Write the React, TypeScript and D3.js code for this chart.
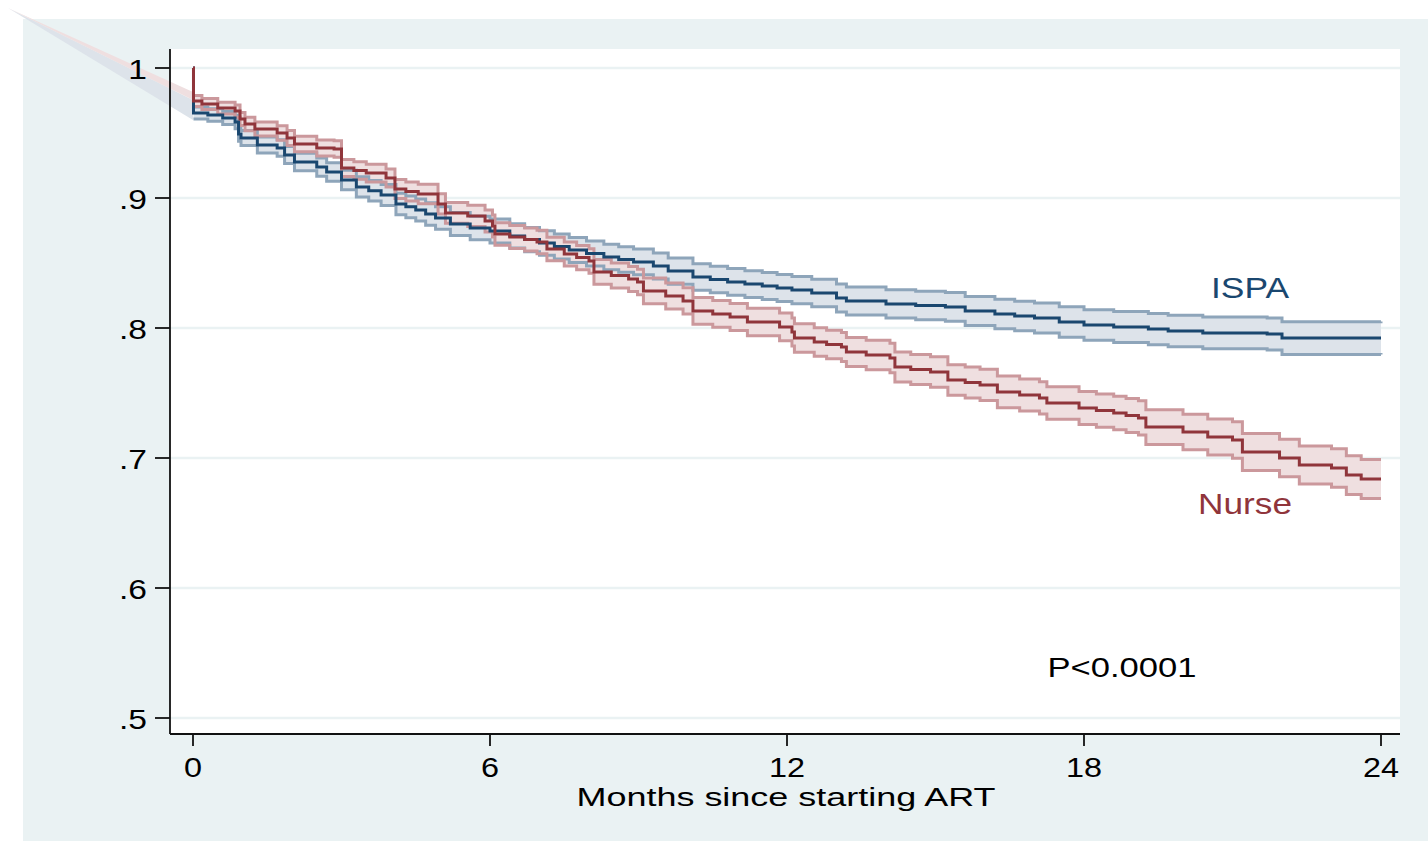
import React from 'react';
import * as d3 from 'd3';

// Kaplan-Meier estimates (months, survival, CI half-width)
const ispaTime = [0, 0.01, 0.3, 0.6, 0.85, 0.92, 0.97, 1.3, 1.7, 1.85, 2.05, 2.5, 2.7, 3.0, 3.3, 3.55, 3.8, 4.1, 4.3, 4.5, 4.7, 4.9, 5.2, 5.6, 6.0, 6.4, 6.7, 7.0, 7.3, 7.6, 7.95, 8.3, 8.6, 8.9, 9.3, 9.6, 10.1, 10.45, 10.8, 11.15, 11.5, 11.8, 12.1, 12.5, 13.0, 13.2, 14.0, 14.6, 15.2, 15.6, 16.2, 16.6, 17.0, 17.5, 18.0, 18.6, 19.3, 19.7, 20.4, 21.7, 22.0, 24.0];
const ispaSurv = [1, 0.9654, 0.9638, 0.9615, 0.9585, 0.9492, 0.9462, 0.9408, 0.9385, 0.9331, 0.9277, 0.9238, 0.92, 0.9138, 0.9085, 0.9055, 0.9023, 0.8954, 0.8932, 0.8908, 0.8877, 0.8846, 0.88, 0.8769, 0.8746, 0.8708, 0.868, 0.8654, 0.8627, 0.86, 0.8573, 0.8546, 0.8527, 0.8508, 0.8477, 0.8438, 0.8392, 0.8373, 0.8354, 0.8338, 0.8323, 0.8308, 0.8292, 0.8269, 0.8231, 0.8208, 0.8185, 0.8173, 0.8162, 0.8131, 0.8108, 0.8092, 0.8077, 0.8046, 0.8023, 0.8008, 0.7992, 0.7977, 0.7962, 0.7954, 0.7923, 0.7923];
const ispaHalf = [0, 0.0046, 0.0048, 0.005, 0.0052, 0.0056, 0.0058, 0.0061, 0.0063, 0.0066, 0.0068, 0.007, 0.0072, 0.0075, 0.0078, 0.0079, 0.008, 0.0083, 0.0084, 0.0085, 0.0086, 0.0087, 0.0089, 0.009, 0.0092, 0.0093, 0.0094, 0.0095, 0.0096, 0.0097, 0.0097, 0.0098, 0.0098, 0.0099, 0.01, 0.0101, 0.0102, 0.0102, 0.0103, 0.0103, 0.0104, 0.0104, 0.0105, 0.0106, 0.0107, 0.0108, 0.0109, 0.011, 0.0111, 0.0112, 0.0113, 0.0114, 0.0115, 0.0117, 0.0118, 0.0119, 0.012, 0.0121, 0.0122, 0.0123, 0.0126, 0.0127];

const nurseTime = [0, 0.01, 0.18, 0.5, 0.85, 0.95, 1.05, 1.25, 1.7, 1.9, 2.05, 2.5, 2.85, 3.0, 3.25, 3.5, 3.9, 4.08, 4.3, 4.55, 4.95, 5.1, 5.55, 5.9, 6.05, 6.1, 6.4, 6.7, 6.95, 7.15, 7.5, 7.75, 8.0, 8.1, 8.45, 8.8, 8.98, 9.1, 9.55, 9.9, 10.1, 10.5, 10.85, 11.2, 11.85, 12.1, 12.15, 12.55, 12.8, 13.1, 13.2, 13.6, 14.08, 14.18, 14.5, 14.9, 15.25, 15.6, 15.9, 16.25, 16.7, 17.1, 17.25, 17.9, 18.25, 18.6, 18.85, 19.1, 19.25, 20.0, 20.5, 21.0, 21.2, 21.95, 22.35, 23.0, 23.3, 23.6, 24.0];
const nurseSurv = [1, 0.9746, 0.9723, 0.9692, 0.9669, 0.9608, 0.9569, 0.9531, 0.95, 0.9462, 0.9415, 0.9385, 0.9377, 0.9231, 0.9212, 0.9192, 0.9154, 0.9069, 0.905, 0.9031, 0.8954, 0.8885, 0.8862, 0.8823, 0.8785, 0.8723, 0.87, 0.8681, 0.8662, 0.8608, 0.8569, 0.8542, 0.8515, 0.8431, 0.8404, 0.8377, 0.8354, 0.8285, 0.8246, 0.8208, 0.8131, 0.8108, 0.8085, 0.8046, 0.8008, 0.7969, 0.7923, 0.7892, 0.7873, 0.7854, 0.7815, 0.7792, 0.7769, 0.77, 0.7681, 0.7662, 0.76, 0.7581, 0.7562, 0.7508, 0.7485, 0.7462, 0.7423, 0.7385, 0.7365, 0.7346, 0.7327, 0.7308, 0.7238, 0.72, 0.7162, 0.7138, 0.7046, 0.7, 0.6946, 0.6923, 0.6869, 0.6838, 0.6838];
const nurseHalf = [0, 0.0042, 0.0043, 0.0045, 0.0047, 0.005, 0.0052, 0.0054, 0.0056, 0.0058, 0.006, 0.0062, 0.0063, 0.0066, 0.0067, 0.0068, 0.007, 0.0073, 0.0074, 0.0075, 0.0078, 0.008, 0.0082, 0.0084, 0.0085, 0.0087, 0.0088, 0.0089, 0.009, 0.0091, 0.0092, 0.0093, 0.0094, 0.0095, 0.0096, 0.0097, 0.0098, 0.0099, 0.01, 0.0101, 0.0103, 0.0103, 0.0104, 0.0105, 0.0107, 0.0108, 0.0109, 0.011, 0.011, 0.0111, 0.0112, 0.0113, 0.0114, 0.0115, 0.0116, 0.0117, 0.0118, 0.0119, 0.012, 0.0122, 0.0123, 0.0124, 0.0125, 0.0127, 0.0128, 0.0129, 0.013, 0.0132, 0.0134, 0.0136, 0.0138, 0.014, 0.0142, 0.0144, 0.0146, 0.0148, 0.0149, 0.015, 0.015];

const xTicks = [0, 6, 12, 18, 24];
const yTicks = [0.5, 0.6, 0.7, 0.8, 0.9, 1];
const yTickLabels = ['.5', '.6', '.7', '.8', '.9', '1'];

// stray CI wedge at the top-left corner (survival bounds at month 0)
const nurseWedge = [0.9815, 0.9754];
const ispaWedge = [0.9754, 0.96];

const W = 1428;
const H = 841;
const plot = { left: 170, right: 1400, top: 49, bottom: 734 };
const FONT = "'Liberation Sans', Arial, Helvetica, sans-serif";

const navy = '#1a476f';
const maroon = '#90353b';

type Pt = { t: number; s: number; lo: number; hi: number };

const build = (time: number[], surv: number[], half: number[]): Pt[] =>
  time.map((t, i) => ({ t, s: surv[i], lo: surv[i] - half[i], hi: surv[i] + half[i] }));

const ispa = build(ispaTime, ispaSurv, ispaHalf);
const nurse = build(nurseTime, nurseSurv, nurseHalf);

export default function App() {
  const x = d3.scaleLinear().domain([0, 24]).range([193, 1381]);
  const y = d3.scaleLinear().domain([0.5, 1]).range([718, 68]);

  const line = d3.line<Pt>().x(d => x(d.t)).y(d => y(d.s)).curve(d3.curveStepAfter);
  const loLine = d3.line<Pt>().x(d => x(d.t)).y(d => y(d.lo)).curve(d3.curveStepAfter);
  const hiLine = d3.line<Pt>().x(d => x(d.t)).y(d => y(d.hi)).curve(d3.curveStepAfter);
  const band = d3.area<Pt>().x(d => x(d.t)).y0(d => y(d.lo)).y1(d => y(d.hi)).curve(d3.curveStepAfter);

  // CI starts at the first event
  const ispaCI = ispa.slice(1);
  const nurseCI = nurse.slice(1);

  const wedge = (b: number[]) =>
    `M8,8L${x(0)},${y(b[0])}L${x(0)},${y(b[1])}Z`;

  const stretch = (px: number, py: number, sx = 1.2) => `translate(${px},${py}) scale(${sx},1)`;

  return (
    <svg width={W} height={H} style={{ position: 'absolute', left: 0, top: 0 }}>
      <rect x={0} y={0} width={W} height={H} fill="#ffffff" />
      <rect x={23} y={19} width={W - 23} height={H - 19} fill="#eaf2f3" />
      <rect x={plot.left} y={plot.top} width={plot.right - plot.left} height={plot.bottom - plot.top} fill="#ffffff" />

      {/* gridlines */}
      {yTicks.map(v => (
        <line key={'g' + v} x1={plot.left} x2={plot.right} y1={y(v)} y2={y(v)} stroke="#eaf2f3" strokeWidth={2.5} />
      ))}

      {/* wedge artifact */}
      <path d={wedge(ispaWedge)} fill="#dde3ea" />
      <path d={wedge(nurseWedge)} fill="#efdfe0" />

      {/* confidence bands */}
      <path d={band(ispaCI) || ''} fill="#dde3ea" />
      <path d={band(nurseCI) || ''} fill="#efdfe0" />
      <path d={hiLine(ispaCI) || ''} fill="none" stroke="#8ea5ba" strokeWidth={3} />
      <path d={loLine(ispaCI) || ''} fill="none" stroke="#8ea5ba" strokeWidth={3} />
      <path d={hiLine(nurseCI) || ''} fill="none" stroke="#cb989c" strokeWidth={3} />
      <path d={loLine(nurseCI) || ''} fill="none" stroke="#cb989c" strokeWidth={3} />

      {/* survival curves */}
      <path d={line(ispa) || ''} fill="none" stroke={navy} strokeWidth={3} />
      <path d={line(nurse) || ''} fill="none" stroke={maroon} strokeWidth={3} />

      {/* y axis */}
      <line x1={plot.left} x2={plot.left} y1={plot.top} y2={plot.bottom} stroke="#111" strokeWidth={1.8} />
      {yTicks.map((v, i) => (
        <g key={'y' + v}>
          <line x1={155} x2={plot.left} y1={y(v)} y2={y(v)} stroke="#111" strokeWidth={1.8} />
          <text transform={stretch(147, y(v) + 11)} textAnchor="end" fontSize={28} fontFamily={FONT} fill="#000">
            {yTickLabels[i]}
          </text>
        </g>
      ))}

      {/* x axis */}
      <line x1={plot.left} x2={plot.right} y1={plot.bottom} y2={plot.bottom} stroke="#111" strokeWidth={1.8} />
      {xTicks.map(v => (
        <g key={'x' + v}>
          <line x1={x(v)} x2={x(v)} y1={plot.bottom} y2={746} stroke="#111" strokeWidth={1.8} />
          <text transform={stretch(x(v), 777)} textAnchor="middle" fontSize={27} fontFamily={FONT} fill="#000">
            {v}
          </text>
        </g>
      ))}
      <text x={786} y={806} textAnchor="middle" fontSize={25} fontFamily={FONT} fill="#000"
        textLength={419} lengthAdjust="spacingAndGlyphs">
        Months since starting ART
      </text>

      {/* annotations */}
      <text x={1250} y={298} textAnchor="middle" fontSize={29} fontFamily={FONT} fill={navy}
        textLength={78} lengthAdjust="spacingAndGlyphs">ISPA</text>
      <text x={1245} y={514} textAnchor="middle" fontSize={29} fontFamily={FONT} fill={maroon}
        textLength={94} lengthAdjust="spacingAndGlyphs">Nurse</text>
      <text x={1122} y={677} textAnchor="middle" fontSize={28} fontFamily={FONT} fill="#000"
        textLength={149} lengthAdjust="spacingAndGlyphs">P&lt;0.0001</text>
    </svg>
  );
}
